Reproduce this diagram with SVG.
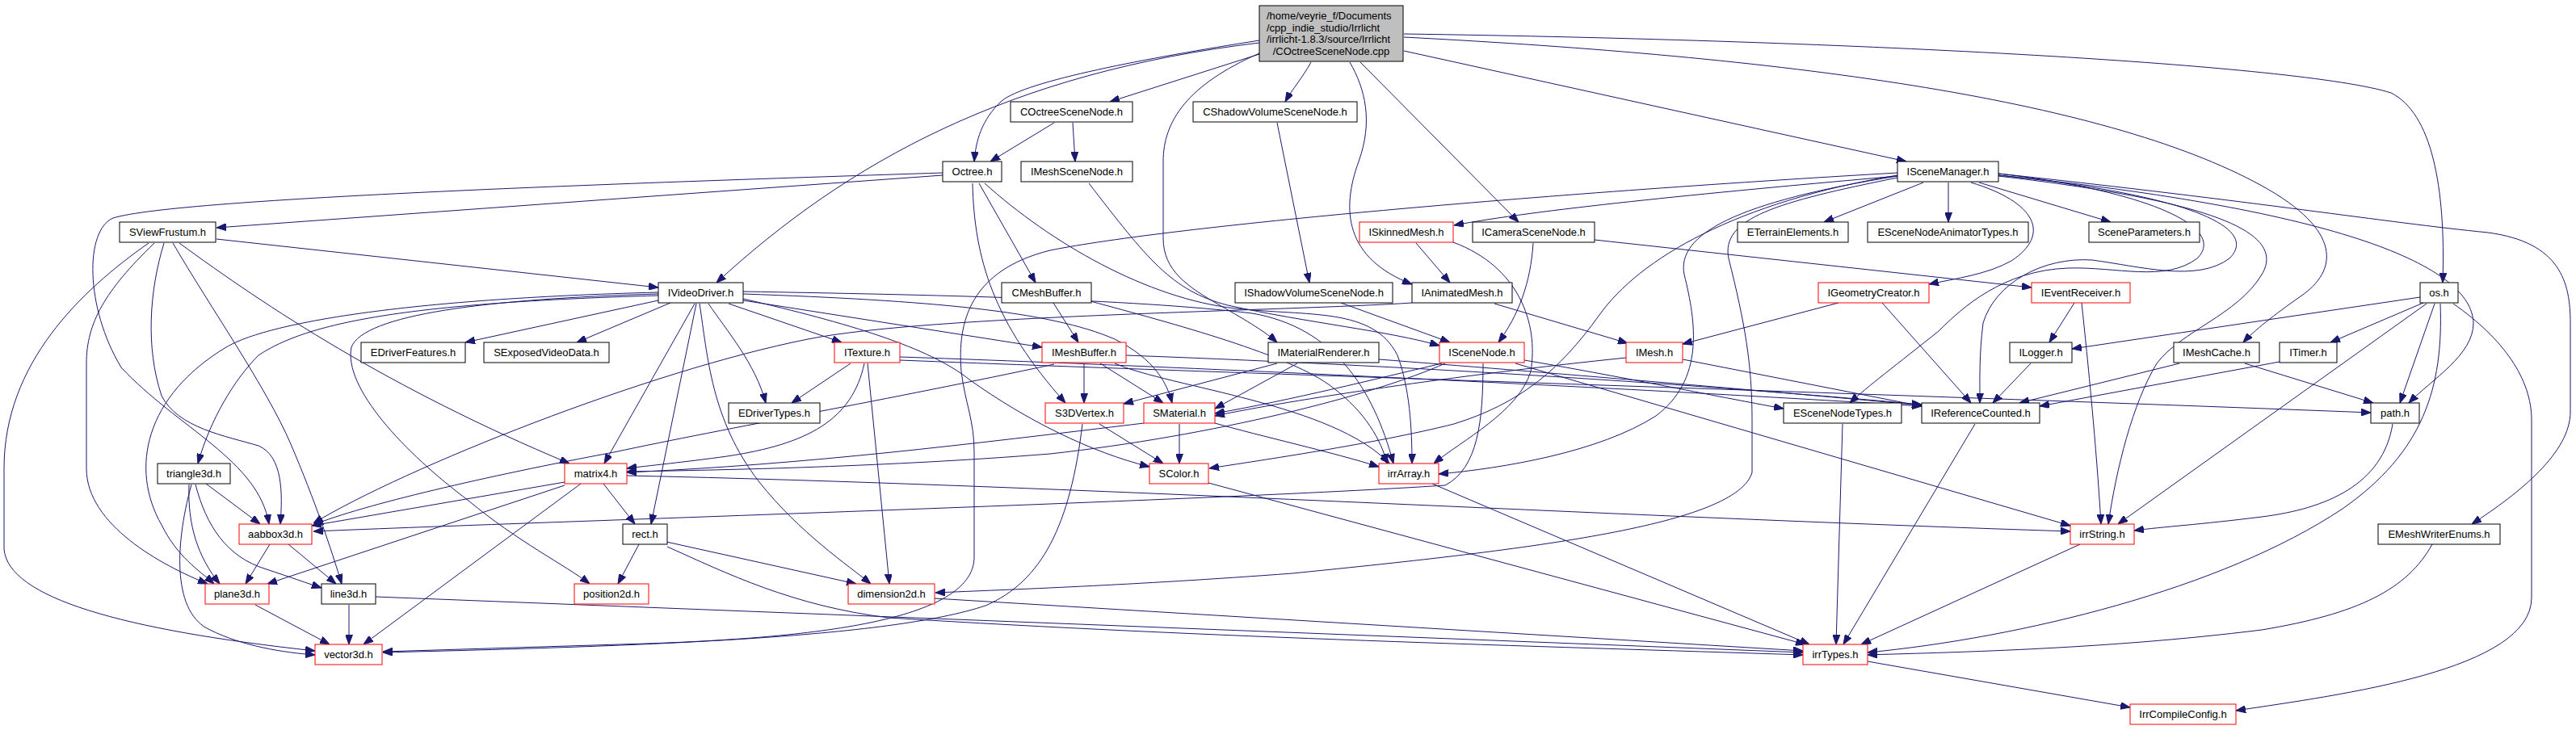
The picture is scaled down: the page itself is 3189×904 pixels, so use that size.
<svg xmlns="http://www.w3.org/2000/svg" width="3189" height="904" viewBox="0 0 3189 904">
<style>
.n rect{fill:#fff;stroke:#000;stroke-width:1}
.r rect{stroke:#f00}
.n text{font-family:"Liberation Sans",Arial,sans-serif;font-size:13px;text-anchor:middle;fill:#000}
.e path{fill:none;stroke:#191970;stroke-width:1;marker-end:url(#a)}
</style>
<defs>
<marker id="a" viewBox="0 0 12 9" markerWidth="12" markerHeight="9" refX="12" refY="4.5" orient="auto" markerUnits="userSpaceOnUse"><path d="M0,0 L12,4.5 L0,9 z" fill="#191970" stroke="#191970" stroke-width="1"/></marker>
</defs>
<rect width="3189" height="904" fill="#fff"/>
<g id="connectors" class="e">
<path d="M1559,50 C1420,72 1270,100 1240,125 C1215,148 1208,175 1206,200"/>
<path d="M1559,53 C1250,90 1050,200 887,350"/>
<path d="M1559,67 L1374,126"/>
<path d="M1623,77 C1612,97 1600,110 1591,126"/>
<path d="M1559,66 C1470,105 1440,150 1440,200 L1440,295 C1440,335 1470,355 1510,378 C1545,398 1568,412 1581,424"/>
<path d="M1671,77 C1690,110 1700,150 1682,200 C1660,260 1665,320 1748,352"/>
<path d="M1684,77 L1880,275"/>
<path d="M1738,63 L2360,200"/>
<path d="M1738,46 C2200,70 2600,120 2800,230 C2900,285 2895,335 2848,367 C2815,390 2790,410 2777,424"/>
<path d="M1738,42 C2300,50 2850,80 2960,115 C3010,140 3028,230 3024,350"/>
<path d="M1305,152 L1226,200"/>
<path d="M1328,152 L1331,200"/>
<path d="M1581,152 L1621,350"/>
<path d="M1167,217 L268,282"/>
<path d="M1167,214 C800,226 220,245 140,270 C105,285 105,380 150,455 C220,530 320,570 333,649"/>
<path d="M1204,227 C1206,320 1230,400 1319,499"/>
<path d="M1212,227 L1282,350"/>
<path d="M1219,227 C1300,300 1420,370 1530,382 C1620,392 1700,380 1730,440 C1745,480 1748,530 1748,574"/>
<path d="M1348,227 C1420,320 1450,360 1520,378 C1620,400 1720,410 1782,428"/>
<path d="M1660,375 L1795,424"/>
<path d="M1898,301 C1895,350 1880,390 1855,424"/>
<path d="M1974,297 L2515,356"/>
<path d="M1753,301 L1795,350"/>
<path d="M1799,300 C1880,330 1905,400 1895,460 C1880,510 1810,545 1775,574"/>
<path d="M1850,376 L2015,425"/>
<path d="M1748,375 C1600,385 1150,390 1000,420 C800,460 500,580 388,648"/>
<path d="M1581,450 L1391,500"/>
<path d="M1606,450 L1504,506"/>
<path d="M1707,445 C1900,460 2200,485 2379,502"/>
<path d="M815,372 L576,424"/>
<path d="M830,375 L714,424"/>
<path d="M877,376 C900,410 935,450 948,499"/>
<path d="M902,376 L1042,424"/>
<path d="M920,372 L1290,430"/>
<path d="M920,364 C1150,372 1300,385 1380,420 C1430,445 1445,475 1451,499"/>
<path d="M920,361 C1150,365 1400,370 1550,388 C1650,405 1700,480 1725,574"/>
<path d="M920,370 C1050,400 1150,430 1200,470 C1270,520 1350,560 1423,578"/>
<path d="M860,376 L748,574"/>
<path d="M862,376 L806,649"/>
<path d="M866,376 C876,440 880,520 940,597 C990,660 1050,700 1078,723"/>
<path d="M815,364 C600,370 450,390 435,430 C425,480 500,560 580,620 C640,670 700,700 730,723"/>
<path d="M815,362 C500,370 330,400 280,430 C180,490 160,580 200,650 C220,690 245,705 265,723"/>
<path d="M815,366 C500,375 380,400 320,440 C290,470 260,520 245,574"/>
<path d="M268,296 L815,356"/>
<path d="M184,301 C100,360 5,450 5,580 L5,680 C10,740 150,780 390,806"/>
<path d="M191,301 C130,360 107,400 107,450 L107,580 C107,650 200,700 257,723"/>
<path d="M203,301 C185,360 180,430 200,490 C220,530 280,540 320,552 C350,565 350,610 347,649"/>
<path d="M214,301 C260,380 330,480 360,550 C390,620 410,680 423,723"/>
<path d="M222,301 C330,380 480,480 705,574"/>
<path d="M255,599 L322,649"/>
<path d="M237,600 C215,680 215,760 260,780 C300,800 350,808 390,811"/>
<path d="M234,600 C232,650 245,690 272,723"/>
<path d="M242,600 C255,650 280,690 330,705 C360,715 380,722 398,728"/>
<path d="M334,674 L304,723"/>
<path d="M357,674 L416,723"/>
<path d="M316,749 L408,798"/>
<path d="M432,749 L432,798"/>
<path d="M465,739 L2232,808"/>
<path d="M719,599 L450,798"/>
<path d="M699,601 L331,723"/>
<path d="M699,597 L386,651"/>
<path d="M747,599 L786,649"/>
<path d="M776,589 C1300,600 2000,640 2563,658"/>
<path d="M825,671 L1060,723"/>
<path d="M791,674 L765,723"/>
<path d="M826,677 C900,710 980,750 1100,765 C1500,790 1900,800 2232,811"/>
<path d="M1157,741 L2232,806"/>
<path d="M1361,525 L1440,574"/>
<path d="M1340,525 C1325,650 1290,720 1220,750 C1100,790 800,800 474,808"/>
<path d="M1460,525 L1460,574"/>
<path d="M1416,524 C1200,550 1000,575 776,585"/>
<path d="M1504,524 C1560,540 1650,560 1707,578"/>
<path d="M1053,450 L980,499"/>
<path d="M1074,450 L1101,723"/>
<path d="M1070,450 C1055,520 1000,550 900,565 C850,572 800,577 776,580"/>
<path d="M1114,442 C1500,455 2100,485 2379,503"/>
<path d="M1114,446 C1600,465 2400,490 2935,511"/>
<path d="M1342,450 L1342,499"/>
<path d="M1362,450 L1440,499"/>
<path d="M1305,451 C1100,495 900,530 760,560 C600,590 450,625 388,650"/>
<path d="M1380,450 C1450,480 1650,500 1720,574"/>
<path d="M1394,440 C1800,455 2150,480 2379,501"/>
<path d="M1304,375 L1335,424"/>
<path d="M1350,373 C1450,400 1600,440 1650,480 C1690,510 1710,545 1717,574"/>
<path d="M1887,446 C2000,465 2120,490 2208,506"/>
<path d="M1785,450 C1700,470 1600,495 1504,512"/>
<path d="M1789,450 C1700,490 1500,540 1300,562 C1100,578 900,582 776,584"/>
<path d="M1836,450 C1836,520 1830,580 1789,601 C1500,620 700,645 388,658"/>
<path d="M1876,450 L2563,651"/>
<path d="M2013,443 C1800,465 1600,495 1504,515"/>
<path d="M2083,445 L2379,503"/>
<path d="M2276,375 L2083,426"/>
<path d="M2330,375 L2440,499"/>
<path d="M2568,375 L2537,424"/>
<path d="M2577,375 C2585,450 2595,550 2601,649"/>
<path d="M2514,450 L2467,499"/>
<path d="M2698,450 L2500,499"/>
<path d="M2779,450 L2938,499"/>
<path d="M2822,448 L2525,503"/>
<path d="M2996,368 L2565,432"/>
<path d="M3000,375 L2885,424"/>
<path d="M3004,376 L2622,649"/>
<path d="M3014,376 L2971,499"/>
<path d="M3021,376 C3025,480 3000,560 2900,630 C2750,730 2500,790 2312,808"/>
<path d="M3037,376 C3100,420 3134,470 3134,520 L3134,740 C3134,830 2900,860 2768,880"/>
<path d="M2349,218 C2100,240 1900,260 1800,279"/>
<path d="M2349,214 C1900,240 1450,280 1300,310 C1200,335 1185,400 1190,460 C1195,500 1206,520 1206,560 L1206,690 C1206,770 1000,790 800,797 L474,807"/>
<path d="M2381,226 L2258,275"/>
<path d="M2412,226 L2412,275"/>
<path d="M2450,226 L2613,275"/>
<path d="M2440,226 C2520,250 2540,290 2490,323 C2460,340 2420,345 2388,352"/>
<path d="M2474,215 C2650,235 2760,280 2720,320 C2680,350 2620,330 2560,332 C2480,335 2430,380 2400,410 C2350,450 2310,480 2290,499"/>
<path d="M2474,217 C2700,240 2800,280 2760,320 C2720,350 2650,330 2590,322 C2530,318 2470,350 2455,400 C2450,440 2451,470 2451,499"/>
<path d="M2474,218 C2750,250 2830,290 2800,340 C2770,390 2700,410 2670,450 C2640,500 2620,580 2610,649"/>
<path d="M2474,215 C2800,250 2950,275 3080,288 C3170,300 3182,350 3182,400 L3182,510 C3182,560 3120,610 3060,649"/>
<path d="M2474,217 C2900,260 3060,330 3062,400 C3062,440 3010,470 2982,499"/>
<path d="M2349,220 C2200,250 2130,270 2140,320 C2160,400 2169,450 2169,520 L2169,585 C2150,650 1900,680 1600,710 C1400,725 1250,730 1158,734"/>
<path d="M2349,217 C2150,250 2030,320 1980,390 C1930,460 1880,500 1800,525 C1700,550 1560,570 1497,580"/>
<path d="M2349,218 C2150,250 2075,290 2085,340 C2100,400 2110,470 2050,515 C1980,560 1860,580 1781,587"/>
<path d="M2575,674 L2304,798"/>
<path d="M2445,525 L2282,798"/>
<path d="M2281,525 L2273,798"/>
<path d="M3011,674 C2980,730 2920,760 2800,780 C2600,805 2400,808 2312,811"/>
<path d="M2962,525 C2950,600 2880,630 2800,640 C2720,650 2680,652 2642,657"/>
<path d="M2312,819 L2637,876"/>
<path d="M1773,599 L2240,798"/>
<path d="M1496,598 L2235,798"/>
</g>
<g id="nodes">
<g id="n_main" class="n"><rect x="1559" y="7" width="178" height="69" style="fill:#bfbfbf"/><text x="1568" y="24" style="text-anchor:start">/home/veyrie_f/Documents</text><text x="1568" y="38.5" style="text-anchor:start">/cpp_indie_studio/Irrlicht</text><text x="1568" y="53" style="text-anchor:start">/irrlicht-1.8.3/source/Irrlicht</text><text x="1648" y="67.5">/COctreeSceneNode.cpp</text></g>
<g id="n_COctreeSceneNode" class="n"><rect x="1251" y="126" width="151" height="25"/><text x="1326.5" y="143">COctreeSceneNode.h</text></g>
<g id="n_CShadowVolumeSceneNode" class="n"><rect x="1477" y="126" width="203" height="25"/><text x="1578.5" y="143">CShadowVolumeSceneNode.h</text></g>
<g id="n_Octree" class="n"><rect x="1167" y="200" width="73" height="25"/><text x="1203.5" y="217">Octree.h</text></g>
<g id="n_IMeshSceneNode" class="n"><rect x="1264" y="200" width="138" height="25"/><text x="1333" y="217">IMeshSceneNode.h</text></g>
<g id="n_ISceneManager" class="n"><rect x="2349" y="200" width="125" height="25"/><text x="2411.5" y="217">ISceneManager.h</text></g>
<g id="n_SViewFrustum" class="n"><rect x="148" y="275" width="119" height="25"/><text x="207.5" y="292">SViewFrustum.h</text></g>
<g id="n_ISkinnedMesh" class="n r"><rect x="1683" y="275" width="116" height="25"/><text x="1741" y="292">ISkinnedMesh.h</text></g>
<g id="n_ICameraSceneNode" class="n"><rect x="1823" y="275" width="151" height="25"/><text x="1898.5" y="292">ICameraSceneNode.h</text></g>
<g id="n_ETerrainElements" class="n"><rect x="2151" y="275" width="137" height="25"/><text x="2219.5" y="292">ETerrainElements.h</text></g>
<g id="n_ESceneNodeAnimatorTypes" class="n"><rect x="2312" y="275" width="199" height="25"/><text x="2411.5" y="292">ESceneNodeAnimatorTypes.h</text></g>
<g id="n_SceneParameters" class="n"><rect x="2586" y="275" width="137" height="25"/><text x="2654.5" y="292">SceneParameters.h</text></g>
<g id="n_IVideoDriver" class="n"><rect x="815" y="350" width="105" height="25"/><text x="867.5" y="367">IVideoDriver.h</text></g>
<g id="n_CMeshBuffer" class="n"><rect x="1240" y="350" width="111" height="25"/><text x="1295.5" y="367">CMeshBuffer.h</text></g>
<g id="n_IShadowVolumeSceneNode" class="n"><rect x="1529" y="350" width="195" height="25"/><text x="1626.5" y="367">IShadowVolumeSceneNode.h</text></g>
<g id="n_IAnimatedMesh" class="n"><rect x="1748" y="350" width="124" height="25"/><text x="1810" y="367">IAnimatedMesh.h</text></g>
<g id="n_IGeometryCreator" class="n r"><rect x="2251" y="350" width="137" height="25"/><text x="2319.5" y="367">IGeometryCreator.h</text></g>
<g id="n_IEventReceiver" class="n r"><rect x="2515" y="350" width="122" height="25"/><text x="2576" y="367">IEventReceiver.h</text></g>
<g id="n_os" class="n"><rect x="2996" y="350" width="47" height="25"/><text x="3019.5" y="367">os.h</text></g>
<g id="n_EDriverFeatures" class="n"><rect x="447" y="424" width="129" height="25"/><text x="511.5" y="441">EDriverFeatures.h</text></g>
<g id="n_SExposedVideoData" class="n"><rect x="599" y="424" width="155" height="25"/><text x="676.5" y="441">SExposedVideoData.h</text></g>
<g id="n_ITexture" class="n r"><rect x="1033" y="424" width="81" height="25"/><text x="1073.5" y="441">ITexture.h</text></g>
<g id="n_IMeshBuffer" class="n r"><rect x="1290" y="424" width="104" height="25"/><text x="1342" y="441">IMeshBuffer.h</text></g>
<g id="n_IMaterialRenderer" class="n"><rect x="1570" y="424" width="137" height="25"/><text x="1638.5" y="441">IMaterialRenderer.h</text></g>
<g id="n_ISceneNode" class="n r"><rect x="1782" y="424" width="105" height="25"/><text x="1834.5" y="441">ISceneNode.h</text></g>
<g id="n_IMesh" class="n r"><rect x="2013" y="424" width="70" height="25"/><text x="2048" y="441">IMesh.h</text></g>
<g id="n_ILogger" class="n"><rect x="2488" y="424" width="77" height="25"/><text x="2526.5" y="441">ILogger.h</text></g>
<g id="n_IMeshCache" class="n"><rect x="2691" y="424" width="106" height="25"/><text x="2744" y="441">IMeshCache.h</text></g>
<g id="n_ITimer" class="n"><rect x="2822" y="424" width="71" height="25"/><text x="2857.5" y="441">ITimer.h</text></g>
<g id="n_EDriverTypes" class="n"><rect x="902" y="499" width="113" height="25"/><text x="958.5" y="516">EDriverTypes.h</text></g>
<g id="n_S3DVertex" class="n r"><rect x="1294" y="499" width="97" height="25"/><text x="1342.5" y="516">S3DVertex.h</text></g>
<g id="n_SMaterial" class="n r"><rect x="1416" y="499" width="88" height="25"/><text x="1460" y="516">SMaterial.h</text></g>
<g id="n_ESceneNodeTypes" class="n"><rect x="2208" y="499" width="146" height="25"/><text x="2281" y="516">ESceneNodeTypes.h</text></g>
<g id="n_IReferenceCounted" class="n"><rect x="2379" y="499" width="146" height="25"/><text x="2452" y="516">IReferenceCounted.h</text></g>
<g id="n_path" class="n"><rect x="2935" y="499" width="60" height="25"/><text x="2965" y="516">path.h</text></g>
<g id="n_triangle3d" class="n"><rect x="195" y="574" width="90" height="25"/><text x="240" y="591">triangle3d.h</text></g>
<g id="n_matrix4" class="n r"><rect x="699" y="574" width="77" height="25"/><text x="737.5" y="591">matrix4.h</text></g>
<g id="n_SColor" class="n r"><rect x="1423" y="574" width="73" height="25"/><text x="1459.5" y="591">SColor.h</text></g>
<g id="n_irrArray" class="n r"><rect x="1707" y="574" width="74" height="25"/><text x="1744" y="591">irrArray.h</text></g>
<g id="n_aabbox3d" class="n r"><rect x="296" y="649" width="90" height="25"/><text x="341" y="666">aabbox3d.h</text></g>
<g id="n_rect" class="n"><rect x="771" y="649" width="55" height="25"/><text x="798.5" y="666">rect.h</text></g>
<g id="n_irrString" class="n r"><rect x="2563" y="649" width="79" height="25"/><text x="2602.5" y="666">irrString.h</text></g>
<g id="n_EMeshWriterEnums" class="n"><rect x="2944" y="649" width="151" height="25"/><text x="3019.5" y="666">EMeshWriterEnums.h</text></g>
<g id="n_plane3d" class="n r"><rect x="254" y="723" width="79" height="25"/><text x="293.5" y="740">plane3d.h</text></g>
<g id="n_line3d" class="n"><rect x="398" y="723" width="67" height="25"/><text x="431.5" y="740">line3d.h</text></g>
<g id="n_position2d" class="n r"><rect x="711" y="723" width="92" height="25"/><text x="757" y="740">position2d.h</text></g>
<g id="n_dimension2d" class="n r"><rect x="1050" y="723" width="107" height="25"/><text x="1103.5" y="740">dimension2d.h</text></g>
<g id="n_vector3d" class="n r"><rect x="390" y="798" width="83" height="25"/><text x="431.5" y="815">vector3d.h</text></g>
<g id="n_irrTypes" class="n r"><rect x="2232" y="798" width="80" height="25"/><text x="2272" y="815">irrTypes.h</text></g>
<g id="n_IrrCompileConfig" class="n r"><rect x="2637" y="872" width="131" height="25"/><text x="2702.5" y="889">IrrCompileConfig.h</text></g>
</g>
</svg>
